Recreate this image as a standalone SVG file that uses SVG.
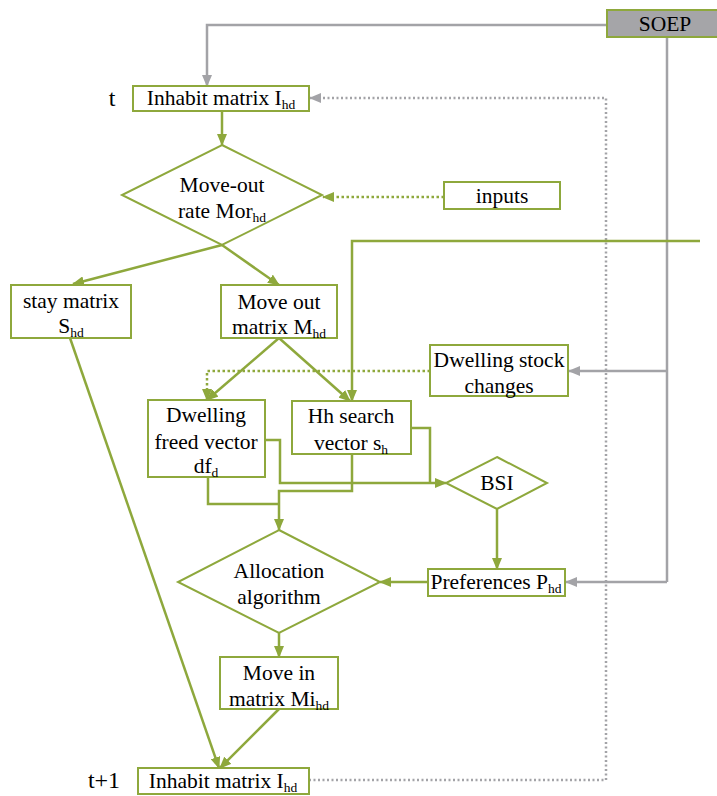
<svg xmlns="http://www.w3.org/2000/svg" width="717" height="796" viewBox="0 0 717 796">
<style>
text{font-size:21.5px;fill:#000;text-anchor:middle}
.sub{font-size:13.5px}
.box{fill:#fff;stroke:#8ea83c;stroke-width:2}
.g{fill:none;stroke:#8ea83c;stroke-width:2.5}
.gd{fill:none;stroke:#8ea83c;stroke-width:2.5;stroke-dasharray:2.5 2.5}
.k{fill:none;stroke:#a3a3a7;stroke-width:2.5}
.kd{fill:none;stroke:#a3a3a7;stroke-width:2.5;stroke-dasharray:2 2.5}
</style>
<defs>
<marker id="ag" markerUnits="userSpaceOnUse" markerWidth="12" markerHeight="10" refX="11" refY="5" orient="auto"><path d="M0,0 L12,5 L0,10 z" fill="#8ea83c"/></marker>
<marker id="ak" markerUnits="userSpaceOnUse" markerWidth="12" markerHeight="10" refX="11" refY="5" orient="auto"><path d="M0,0 L12,5 L0,10 z" fill="#a3a3a7"/></marker>
</defs>
<g id="connectors">
<path class="k" d="M607,25 H207 V86" marker-end="url(#ak)"/>
<path class="k" d="M667,37 V582"/>
<path class="k" d="M667,371 H569" marker-end="url(#ak)"/>
<path class="k" d="M667,582 H566" marker-end="url(#ak)"/>
<path class="kd" d="M309,780 H606 V98 H310" marker-end="url(#ak)"/>
<path class="g" d="M222,111 V145" marker-end="url(#ag)"/>
<path class="gd" d="M444,197 H323" marker-end="url(#ag)"/>
<path class="g" d="M222,245 L73,284" marker-end="url(#ag)"/>
<path class="g" d="M222,245 L279,285" marker-end="url(#ag)"/>
<path class="g" d="M700,241 H352 V401" marker-end="url(#ag)"/>
<path class="g" d="M279,338 L207,400" marker-end="url(#ag)"/>
<path class="g" d="M279,338 L350,401" marker-end="url(#ag)"/>
<path class="gd" d="M430,371 H207 V400" marker-end="url(#ag)"/>
<path class="g" d="M265,440 H280 V483 H446" marker-end="url(#ag)"/>
<path class="g" d="M411,428 H430 V483"/>
<path class="g" d="M208,477 V504 H279"/>
<path class="g" d="M352,454 V491 H279 V530" marker-end="url(#ag)"/>
<path class="g" d="M497,509 V569" marker-end="url(#ag)"/>
<path class="g" d="M428,582 H380" marker-end="url(#ag)"/>
<path class="g" d="M279,632 V657" marker-end="url(#ag)"/>
<path class="g" d="M279,709 L220,768" marker-end="url(#ag)"/>
<path class="g" d="M70,338 L219,768" marker-end="url(#ag)"/>
</g>
<g font-family="Liberation Serif, Times New Roman, serif">
<g id="soep"><rect x="607" y="10" width="112" height="27" fill="#a5a5a8" stroke="#8ea83c" stroke-width="2"/><text x="665" y="31">SOEP</text></g>
<g id="label-t"><text x="112" y="106" style="font-size:24px">t</text></g>
<g id="inhabit-top"><rect class="box" x="133" y="86" width="176" height="25"/><text x="221" y="105">Inhabit matrix I<tspan class="sub" dy="4">hd</tspan></text></g>
<g id="moveout-rate"><path class="box" d="M222,145 L322,195 L222,245 L122,195 z"/><text x="222" y="192">Move-out</text><text x="222" y="218">rate Mor<tspan class="sub" dy="4">hd</tspan></text></g>
<g id="inputs"><rect class="box" x="444" y="182" width="116" height="27"/><text x="502" y="203">inputs</text></g>
<g id="stay"><rect class="box" x="11" y="285" width="120" height="53"/><text x="71" y="308">stay matrix</text><text x="71" y="333">S<tspan class="sub" dy="4">hd</tspan></text></g>
<g id="moveout-matrix"><rect class="box" x="221" y="285" width="116" height="53"/><text x="279" y="309">Move out</text><text x="279" y="334">matrix M<tspan class="sub" dy="4">hd</tspan></text></g>
<g id="stock"><rect class="box" x="430" y="345" width="138" height="51"/><text x="499" y="367">Dwelling stock</text><text x="499" y="393">changes</text></g>
<g id="freed"><rect class="box" x="148" y="400" width="117" height="77"/><text x="206" y="422">Dwelling</text><text x="206" y="449">freed vector</text><text x="206" y="473">df<tspan class="sub" dy="4">d</tspan></text></g>
<g id="search"><rect class="box" x="292" y="401" width="119" height="53"/><text x="351" y="423">Hh search</text><text x="351" y="450">vector s<tspan class="sub" dy="4">h</tspan></text></g>
<g id="bsi"><path class="box" d="M497,457 L547,483 L497,509 L446,483 z"/><text x="497" y="490">BSI</text></g>
<g id="allocation"><path class="box" d="M279,530 L380,582 L279,633 L178,582 z"/><text x="279" y="578">Allocation</text><text x="279" y="604">algorithm</text></g>
<g id="preferences"><rect class="box" x="428" y="569" width="137" height="27"/><text x="496" y="589">Preferences P<tspan class="sub" dy="4">hd</tspan></text></g>
<g id="movein"><rect class="box" x="220" y="657" width="118" height="52"/><text x="279" y="680">Move in</text><text x="279" y="706">matrix Mi<tspan class="sub" dy="4">hd</tspan></text></g>
<g id="label-t1"><text x="104" y="788" style="font-size:24px">t+1</text></g>
<g id="inhabit-bottom"><rect class="box" x="138" y="768" width="171" height="26"/><text x="223" y="788">Inhabit matrix I<tspan class="sub" dy="4">hd</tspan></text></g>
</g>
</svg>
